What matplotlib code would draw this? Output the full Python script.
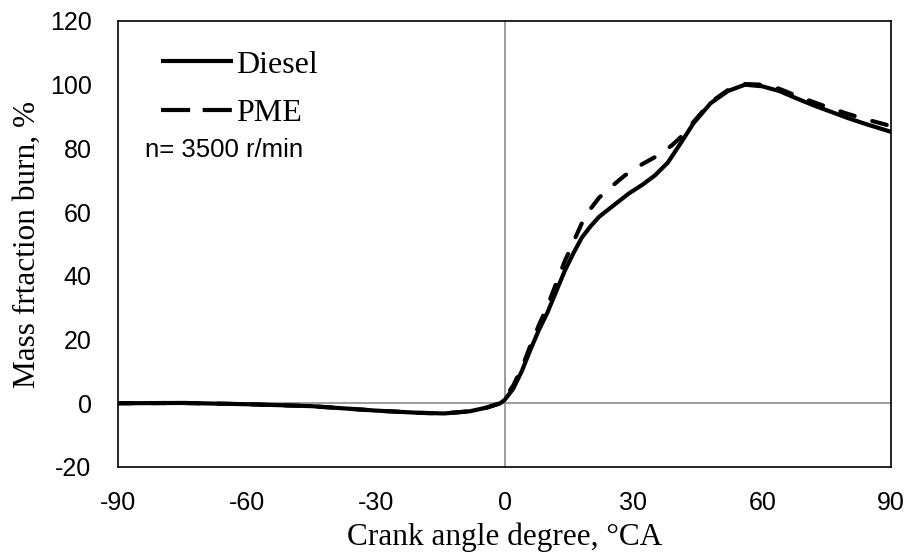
import matplotlib
matplotlib.use("Agg")
import matplotlib.pyplot as plt
from matplotlib.lines import Line2D

plt.rcParams["axes.unicode_minus"] = False

diesel_x = [-90, -75, -60, -45, -30, -20, -14, -8, -4, -1, 0, 2, 4, 6, 8, 10, 12, 14, 16, 18, 20, 22, 25, 29, 32, 35, 38, 41, 44, 48, 52, 56, 60, 64, 68, 72, 76, 80, 84, 90]
diesel_y = [0, 0.1, -0.3, -0.9, -2.3, -3.0, -3.2, -2.5, -1.3, 0, 1, 4.5, 10, 16.7, 23, 28.5, 35, 41.5, 47, 52, 55.5, 58.5, 61.7, 65.9, 68.5, 71.5, 75.5, 81.6, 87.9, 94.2, 98, 100, 99.5, 98, 95.7, 93.5, 91.5, 89.5, 87.7, 85.2]

pme_x = [-90, -75, -60, -45, -30, -20, -14, -8, -4, -1, 0, 2, 4, 6, 8, 10, 12, 14, 16, 18, 20, 22, 24, 28, 32, 36, 39, 41, 44, 48, 52, 56, 60, 64, 68, 72, 76, 80, 84, 90]
pme_y = [0, 0.1, -0.3, -0.9, -2.3, -3.0, -3.2, -2.5, -1.3, 0, 1.5, 5.5, 11, 18, 24.5, 30.5, 37.5, 44.5, 50.5, 56.5, 61, 64.5, 67, 71.5, 75, 78, 81, 83.5, 88.3, 94.5, 98.3, 100.2, 100, 98.7, 96.5, 94.5, 92.6, 90.8, 89.2, 87]

x_ticks = [-90, -60, -30, 0, 30, 60, 90]
y_ticks = [-20, 0, 20, 40, 60, 80, 100, 120]

fig = plt.figure(figsize=(9.07, 5.55), dpi=100)
ax = fig.add_axes([0.1301, 0.1586, 0.8523, 0.8036])

ax.axhline(0, color="#8c8c8c", lw=1.2, zorder=1)
ax.axvline(0, color="#8c8c8c", lw=1.2, zorder=1)

ax.plot(diesel_x, diesel_y, color="black", lw=3.0, solid_capstyle="round",
        solid_joinstyle="round", label="Diesel", zorder=3)
ax.plot(pme_x, pme_y, color="black", lw=3.0, dashes=(3.6, 4.4), dash_capstyle="round",
        label="PME", zorder=3)

ax.set_xlim(-90, 90)
ax.set_ylim(-20, 120)
ax.set_xticks(x_ticks)
ax.set_yticks(y_ticks)
ax.tick_params(length=0, labelsize=18)
ax.tick_params(axis="x", pad=17)
ax.tick_params(axis="y", pad=19)
for lab in ax.get_xticklabels() + ax.get_yticklabels():
    lab.set_family("Liberation Sans")
for s in ax.spines.values():
    s.set_linewidth(1.2)
    s.set_color("black")

ax.set_xlabel("Crank angle degree, °CA", family="Liberation Serif", fontsize=22.5, labelpad=6)
ax.set_ylabel("Mass frtaction burn, %", family="Liberation Serif", fontsize=22.5, labelpad=6)

handles = [Line2D([], [], color="black", lw=3.0, solid_capstyle="butt"),
           Line2D([], [], color="black", lw=3.0, dashes=(7.0, 3.0), dash_capstyle="butt")]
leg = ax.legend(handles, ["Diesel", "PME"], loc="upper left", bbox_to_anchor=(0.039, 0.963), frameon=False,
                prop={"family": "Liberation Serif", "size": 23},
                handlelength=2.25, handletextpad=0.1, labelspacing=0.6, borderaxespad=0)
ax.text(0.035, 0.711, "n= 3500 r/min", transform=ax.transAxes, family="Liberation Sans",
        fontsize=18.5, va="center", ha="left")

fig.savefig("out.png", dpi=100)
